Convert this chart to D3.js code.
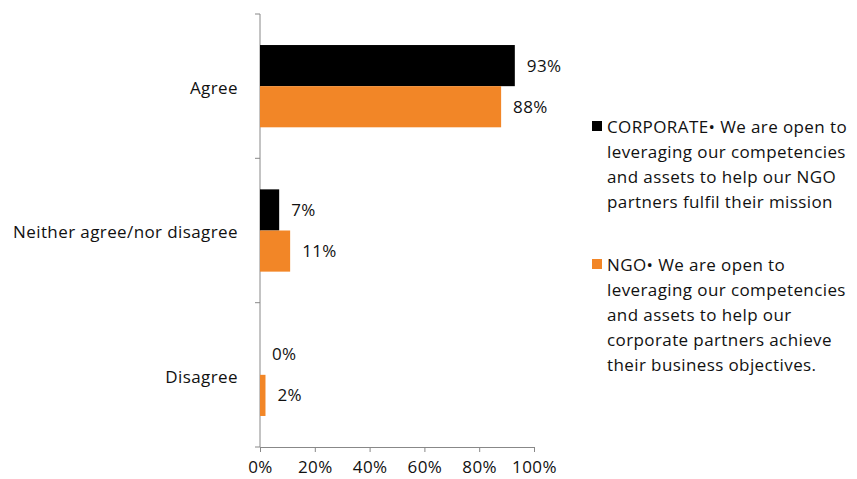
<!DOCTYPE html>
<html>
<head>
<meta charset="utf-8">
<script src="https://cdn.jsdelivr.net/npm/d3@7.9.0/dist/d3.min.js"></script>
<style>
  body { margin: 0; background: #fff; }
  svg text { font-family: "Open Sans", sans-serif; fill: #111; letter-spacing: 0.4px; }
</style>
</head>
<body>
<svg width="857" height="479"></svg>
<script>
const categories = ['Agree', 'Neither agree/nor disagree', 'Disagree'];
const seriesNames = ['CORPORATE', 'NGO'];
const corporate = [93, 7, 0];
const ngo = [88, 11, 2];
const xTicks = [0, 20, 40, 60, 80, 100];
const legendLines = [
  ['CORPORATE\u2022  We are open to', 'leveraging our competencies', 'and assets to help our NGO', 'partners fulfil their mission'],
  ['NGO\u2022 We are open to', 'leveraging our competencies', 'and assets to help our', 'corporate partners achieve', 'their business objectives.']
];
const colors = ['#000000', '#f28627'];
const fs = 17;

const svg = d3.select('svg');
const x = d3.scaleLinear().domain([0, 100]).range([260, 534]);
const y = d3.scaleBand().domain(categories).range([14, 447]).paddingInner(0.43).paddingOuter(0.215);
const ySub = d3.scaleBand().domain(seriesNames).range([0, y.bandwidth()]);

// axes
const xAxis = d3.axisBottom(x).tickValues(xTicks).tickFormat(d => d + '%').tickSize(5).tickSizeOuter(5);
svg.append('g').attr('transform', 'translate(0,447)').call(xAxis)
  .call(g => g.select('.domain').attr('stroke', '#888'))
  .call(g => g.selectAll('.tick line').attr('stroke', '#888'))
  .call(g => g.selectAll('.tick text').attr('font-size', fs).attr('y', 26).attr('dy', null)
    .style('font-family', '"Open Sans", sans-serif').attr('fill', '#111'));

const yEdges = [14, 158.3, 302.7, 447];
svg.append('line').attr('x1', 260).attr('x2', 260).attr('y1', 14).attr('y2', 447).attr('stroke', '#888');
svg.selectAll('.ytick').data(yEdges).join('line')
  .attr('x1', 255).attr('x2', 260).attr('y1', d => d).attr('y2', d => d).attr('stroke', '#888');

svg.selectAll('.cat').data(categories).join('text')
  .attr('x', 238).attr('y', d => y(d) + y.bandwidth() / 2 + 2)
  .attr('dy', '0.35em').attr('text-anchor', 'end').attr('font-size', fs)
  .text(d => d);

// bars
const data = [corporate, ngo];
data.forEach((vals, si) => {
  const g = svg.append('g');
  g.selectAll('rect').data(vals).join('rect')
    .attr('x', x(0)).attr('y', (d, i) => y(categories[i]) + ySub(seriesNames[si]))
    .attr('width', d => x(d) - x(0)).attr('height', ySub.bandwidth())
    .attr('fill', colors[si]);
  g.selectAll('text').data(vals).join('text')
    .attr('x', d => x(d) + 12)
    .attr('y', (d, i) => y(categories[i]) + ySub(seriesNames[si]) + ySub.bandwidth() / 2)
    .attr('dy', '0.35em').attr('font-size', fs)
    .text(d => d + '%');
});

// legend
const legendY = [127, 265];
legendLines.forEach((lines, si) => {
  svg.append('rect').attr('x', 592).attr('y', legendY[si] - 6).attr('width', 10).attr('height', 10).attr('fill', colors[si]);
  svg.append('g').selectAll('text').data(lines).join('text')
    .attr('x', 607).attr('y', (d, i) => legendY[si] + i * 25)
    .attr('dy', '0.35em').attr('font-size', fs)
    .text(d => d);
});
</script>
</body>
</html>
